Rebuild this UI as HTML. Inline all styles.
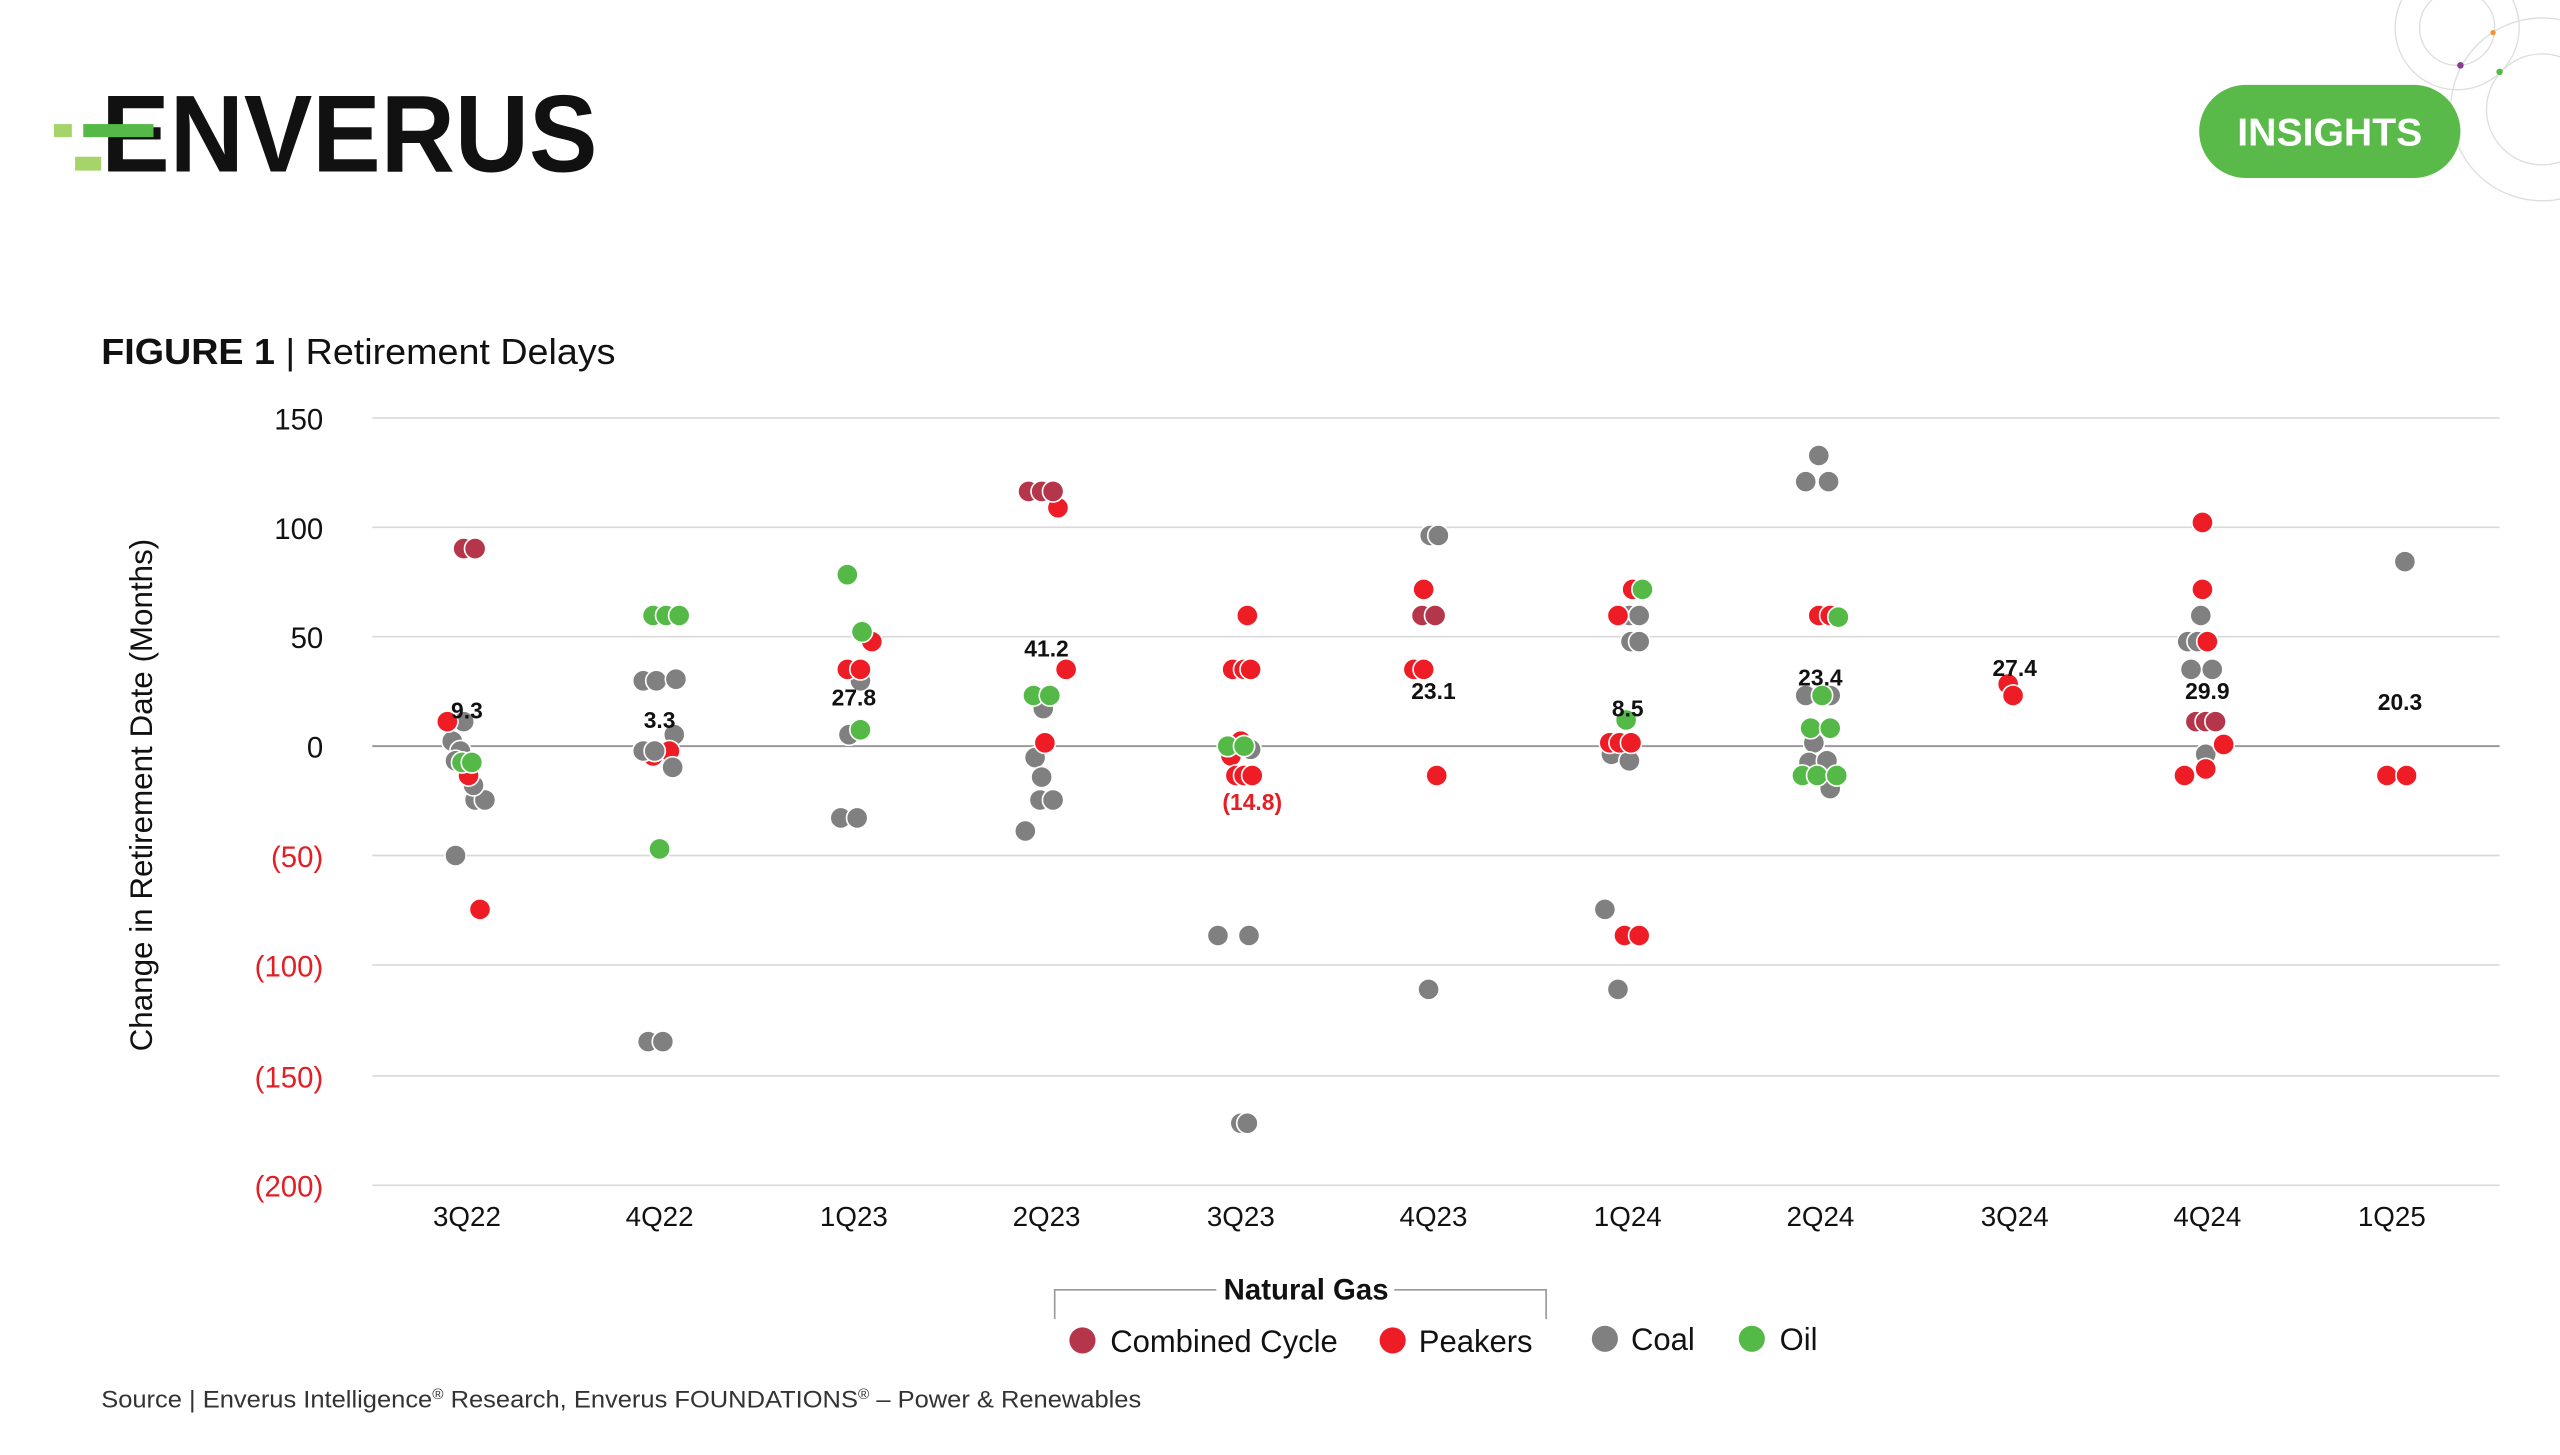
<!DOCTYPE html>
<html><head><meta charset="utf-8"><style>
html,body{margin:0;padding:0;background:#fff;}
svg{display:block;}
text{font-family:"Liberation Sans",sans-serif;}
</style></head><body>
<svg width="2560" height="1455" viewBox="0 0 1568 891.2" preserveAspectRatio="none" xmlns="http://www.w3.org/2000/svg">
<defs>
<style>
.cc{fill:#b5364a;stroke:#fff;stroke-width:1}
.pk{fill:#ee1c25;stroke:#fff;stroke-width:1}
.co{fill:#808080;stroke:#fff;stroke-width:1}
.oi{fill:#55b947;stroke:#fff;stroke-width:1}
.yl{font-size:18px;text-anchor:end}
.xl{font-size:17px;text-anchor:middle;fill:#111}
.lb{font-size:14px;font-weight:bold;text-anchor:middle;fill:#111}
</style>
</defs>
<g fill="none" stroke="#ddd" stroke-width="0.8">
<circle cx="1505" cy="17" r="23"/>
<circle cx="1505" cy="17" r="38"/>
<circle cx="1557" cy="67" r="34"/>
<circle cx="1557" cy="67" r="56"/>
</g>
<circle cx="1527" cy="20" r="1.6" fill="#f7902a"/>
<circle cx="1507" cy="40" r="2" fill="#8e3a96"/>
<circle cx="1531" cy="44" r="2" fill="#55b947"/>
<text x="62" y="105" font-size="67" font-weight="bold" fill="#111" textLength="304" lengthAdjust="spacingAndGlyphs">ENVERUS</text>
<rect x="33" y="76" width="11" height="8" fill="#a6d46b"/>
<rect x="51" y="76" width="43" height="8" fill="#55b947"/>
<rect x="46" y="96" width="16" height="8.5" fill="#a6d46b"/>
<rect x="1347" y="52" width="160" height="57" rx="28.5" fill="#59ba4a"/>
<text x="1427" y="89" font-size="24" font-weight="bold" fill="#fff" text-anchor="middle">INSIGHTS</text>
<text x="62" y="223" font-size="22" fill="#111" textLength="315" lengthAdjust="spacingAndGlyphs"><tspan font-weight="bold">FIGURE 1</tspan> | Retirement Delays</text>
<g stroke="#d9d9d9" stroke-width="1">
<line x1="228" x2="1531" y1="256" y2="256"/>
<line x1="228" x2="1531" y1="323" y2="323"/>
<line x1="228" x2="1531" y1="390" y2="390"/>
<line x1="228" x2="1531" y1="524" y2="524"/>
<line x1="228" x2="1531" y1="591" y2="591"/>
<line x1="228" x2="1531" y1="659" y2="659"/>
<line x1="228" x2="1531" y1="726" y2="726"/>
</g>
<line x1="228" x2="1531" y1="457" y2="457" stroke="#999" stroke-width="1.2"/>
<g class="yl">
<text x="198" y="263" fill="#111">150</text>
<text x="198" y="330" fill="#111">100</text>
<text x="198" y="397" fill="#111">50</text>
<text x="198" y="464" fill="#111">0</text>
<text x="198" y="531" fill="#e31e24">(50)</text>
<text x="198" y="598" fill="#e31e24">(100)</text>
<text x="198" y="666" fill="#e31e24">(150)</text>
<text x="198" y="733" fill="#e31e24">(200)</text>
</g>
<text transform="translate(93,487) rotate(-90)" font-size="19" text-anchor="middle" fill="#111" textLength="314" lengthAdjust="spacingAndGlyphs">Change in Retirement Date (Months)</text>
<g class="xl">
<text x="286" y="751">3Q22</text><text x="404" y="751">4Q22</text><text x="523" y="751">1Q23</text>
<text x="641" y="751">2Q23</text><text x="760" y="751">3Q23</text><text x="878" y="751">4Q23</text>
<text x="997" y="751">1Q24</text><text x="1115" y="751">2Q24</text><text x="1234" y="751">3Q24</text>
<text x="1352" y="751">4Q24</text><text x="1465" y="751">1Q25</text>
</g>
<g>
<circle class="co" cx="279" cy="524" r="6.5"/><circle class="co" cx="291" cy="490" r="6.5"/><circle class="co" cx="297" cy="490" r="6.5"/><circle class="co" cx="290" cy="481" r="6.5"/>
<circle class="co" cx="277" cy="454" r="6.5"/><circle class="co" cx="282" cy="460" r="6.5"/><circle class="co" cx="279" cy="466" r="6.5"/><circle class="co" cx="284" cy="442" r="6.5"/>
<circle class="pk" cx="274" cy="442" r="6.5"/><circle class="pk" cx="287" cy="475" r="6.5"/><circle class="pk" cx="294" cy="557" r="6.5"/>
<circle class="cc" cx="284" cy="336" r="6.5"/><circle class="cc" cx="291" cy="336" r="6.5"/>
<circle class="oi" cx="283" cy="467" r="6.5"/><circle class="oi" cx="289" cy="467" r="6.5"/>
<circle class="co" cx="394" cy="417" r="6.5"/><circle class="co" cx="402" cy="417" r="6.5"/><circle class="co" cx="414" cy="416" r="6.5"/><circle class="co" cx="413" cy="450" r="6.5"/>
<circle class="pk" cx="400" cy="463" r="6.5"/><circle class="pk" cx="410" cy="460" r="6.5"/>
<circle class="co" cx="394" cy="460" r="6.5"/><circle class="co" cx="401" cy="460" r="6.5"/><circle class="co" cx="412" cy="470" r="6.5"/><circle class="co" cx="397" cy="638" r="6.5"/><circle class="co" cx="406" cy="638" r="6.5"/>
<circle class="oi" cx="400" cy="377" r="6.5"/><circle class="oi" cx="408" cy="377" r="6.5"/><circle class="oi" cx="416" cy="377" r="6.5"/><circle class="oi" cx="404" cy="520" r="6.5"/>
<circle class="co" cx="527" cy="417" r="6.5"/><circle class="co" cx="520" cy="450" r="6.5"/><circle class="co" cx="515" cy="501" r="6.5"/><circle class="co" cx="525" cy="501" r="6.5"/>
<circle class="pk" cx="519" cy="410" r="6.5"/><circle class="pk" cx="527" cy="410" r="6.5"/><circle class="pk" cx="534" cy="393" r="6.5"/>
<circle class="oi" cx="519" cy="352" r="6.5"/><circle class="oi" cx="528" cy="387" r="6.5"/><circle class="oi" cx="527" cy="447" r="6.5"/>
<circle class="co" cx="639" cy="434" r="6.5"/><circle class="co" cx="634" cy="464" r="6.5"/><circle class="co" cx="638" cy="476" r="6.5"/><circle class="co" cx="637" cy="490" r="6.5"/><circle class="co" cx="645" cy="490" r="6.5"/><circle class="co" cx="628" cy="509" r="6.5"/>
<circle class="pk" cx="648" cy="311" r="6.5"/><circle class="pk" cx="653" cy="410" r="6.5"/><circle class="pk" cx="640" cy="455" r="6.5"/>
<circle class="cc" cx="630" cy="301" r="6.5"/><circle class="cc" cx="638" cy="301" r="6.5"/><circle class="cc" cx="645" cy="301" r="6.5"/>
<circle class="oi" cx="633" cy="426" r="6.5"/><circle class="oi" cx="643" cy="426" r="6.5"/>
<circle class="co" cx="766" cy="459" r="6.5"/><circle class="co" cx="746" cy="573" r="6.5"/><circle class="co" cx="765" cy="573" r="6.5"/><circle class="co" cx="760" cy="688" r="6.5"/><circle class="co" cx="764" cy="688" r="6.5"/>
<circle class="pk" cx="764" cy="377" r="6.5"/><circle class="pk" cx="755" cy="410" r="6.5"/><circle class="pk" cx="762" cy="410" r="6.5"/><circle class="pk" cx="766" cy="410" r="6.5"/>
<circle class="pk" cx="760" cy="454" r="6.5"/><circle class="pk" cx="754" cy="463" r="6.5"/><circle class="pk" cx="757" cy="475" r="6.5"/><circle class="pk" cx="762" cy="475" r="6.5"/><circle class="pk" cx="767" cy="475" r="6.5"/>
<circle class="oi" cx="752" cy="457" r="6.5"/><circle class="oi" cx="762" cy="457" r="6.5"/>
<circle class="co" cx="876" cy="328" r="6.5"/><circle class="co" cx="881" cy="328" r="6.5"/><circle class="co" cx="875" cy="606" r="6.5"/>
<circle class="pk" cx="872" cy="361" r="6.5"/><circle class="pk" cx="866" cy="410" r="6.5"/><circle class="pk" cx="872" cy="410" r="6.5"/><circle class="pk" cx="880" cy="475" r="6.5"/>
<circle class="cc" cx="871" cy="377" r="6.5"/><circle class="cc" cx="879" cy="377" r="6.5"/>
<circle class="co" cx="998" cy="377" r="6.5"/><circle class="co" cx="1004" cy="377" r="6.5"/><circle class="co" cx="999" cy="393" r="6.5"/><circle class="co" cx="1004" cy="393" r="6.5"/>
<circle class="co" cx="987" cy="462" r="6.5"/><circle class="co" cx="998" cy="466" r="6.5"/><circle class="co" cx="983" cy="557" r="6.5"/><circle class="co" cx="991" cy="606" r="6.5"/>
<circle class="pk" cx="1000" cy="361" r="6.5"/><circle class="pk" cx="991" cy="377" r="6.5"/><circle class="pk" cx="986" cy="455" r="6.5"/><circle class="pk" cx="992" cy="455" r="6.5"/><circle class="pk" cx="999" cy="455" r="6.5"/>
<circle class="pk" cx="995" cy="573" r="6.5"/><circle class="pk" cx="1004" cy="573" r="6.5"/>
<circle class="oi" cx="1006" cy="361" r="6.5"/><circle class="oi" cx="996" cy="441" r="6.5"/>
<circle class="co" cx="1114" cy="279" r="6.5"/><circle class="co" cx="1106" cy="295" r="6.5"/><circle class="co" cx="1120" cy="295" r="6.5"/><circle class="co" cx="1106" cy="426" r="6.5"/><circle class="co" cx="1121" cy="426" r="6.5"/>
<circle class="co" cx="1111" cy="455" r="6.5"/><circle class="co" cx="1108" cy="467" r="6.5"/><circle class="co" cx="1119" cy="466" r="6.5"/><circle class="co" cx="1121" cy="483" r="6.5"/>
<circle class="pk" cx="1114" cy="377" r="6.5"/><circle class="pk" cx="1121" cy="377" r="6.5"/>
<circle class="oi" cx="1126" cy="378" r="6.5"/><circle class="oi" cx="1116" cy="426" r="6.5"/><circle class="oi" cx="1109" cy="446" r="6.5"/><circle class="oi" cx="1121" cy="446" r="6.5"/>
<circle class="oi" cx="1104" cy="475" r="6.5"/><circle class="oi" cx="1113" cy="475" r="6.5"/><circle class="oi" cx="1125" cy="475" r="6.5"/>
<circle class="pk" cx="1230" cy="419" r="6.5"/><circle class="pk" cx="1233" cy="426" r="6.5"/>
<circle class="co" cx="1348" cy="377" r="6.5"/><circle class="co" cx="1340" cy="393" r="6.5"/><circle class="co" cx="1346" cy="393" r="6.5"/><circle class="co" cx="1342" cy="410" r="6.5"/><circle class="co" cx="1355" cy="410" r="6.5"/><circle class="co" cx="1351" cy="462" r="6.5"/>
<circle class="pk" cx="1349" cy="320" r="6.5"/><circle class="pk" cx="1349" cy="361" r="6.5"/><circle class="pk" cx="1352" cy="393" r="6.5"/>
<circle class="pk" cx="1338" cy="475" r="6.5"/><circle class="pk" cx="1351" cy="471" r="6.5"/><circle class="pk" cx="1362" cy="456" r="6.5"/>
<circle class="cc" cx="1345" cy="442" r="6.5"/><circle class="cc" cx="1351" cy="442" r="6.5"/><circle class="cc" cx="1357" cy="442" r="6.5"/>
<circle class="co" cx="1473" cy="344" r="6.5"/><circle class="pk" cx="1462" cy="475" r="6.5"/><circle class="pk" cx="1474" cy="475" r="6.5"/>
</g>
<g class="lb">
<text x="286" y="440">9.3</text><text x="404" y="446">3.3</text><text x="523" y="432">27.8</text>
<text x="641" y="402">41.2</text><text x="767" y="496" fill="#e31e24">(14.8)</text><text x="878" y="428">23.1</text>
<text x="997" y="439">8.5</text><text x="1115" y="420">23.4</text><text x="1234" y="414">27.4</text>
<text x="1352" y="428">29.9</text><text x="1470" y="435">20.3</text>
</g>
<path d="M646 808 V790 H745 M854 790 H947 V808" fill="none" stroke="#999" stroke-width="1"/>
<text x="800" y="796" font-size="18" font-weight="bold" text-anchor="middle" fill="#111">Natural Gas</text>
<circle cx="663" cy="821" r="8" fill="#b5364a"/><text x="680" y="828" font-size="19" fill="#111">Combined Cycle</text>
<circle cx="853" cy="821" r="8" fill="#ee1c25"/><text x="869" y="828" font-size="19" fill="#111">Peakers</text>
<circle cx="983" cy="820" r="8" fill="#808080"/><text x="999" y="827" font-size="19" fill="#111">Coal</text>
<circle cx="1073" cy="820" r="8" fill="#55b947"/><text x="1090" y="827" font-size="19" fill="#111">Oil</text>
<text x="62" y="862" font-size="15" fill="#333" textLength="637" lengthAdjust="spacingAndGlyphs">Source | Enverus Intelligence<tspan font-size="9" dy="-5">®</tspan><tspan dy="5"> Research, Enverus FOUNDATIONS</tspan><tspan font-size="9" dy="-5">®</tspan><tspan dy="5"> – Power &amp; Renewables</tspan></text>
</svg>
</body></html>
